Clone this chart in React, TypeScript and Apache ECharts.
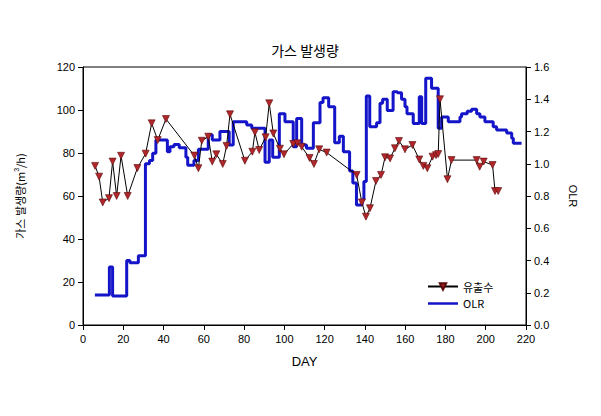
import React, { useEffect, useRef } from "react";
import * as echarts from "echarts";

// 유출수 (left axis, gas production m3/h)
const effDays = [6, 8, 9.8, 12.9, 14.7, 16.7, 18.9, 22.2, 27, 31.1, 34.1, 37.1, 41.2, 55.3, 57.3, 59, 62.2, 64.2, 66.2, 69.4, 71.3, 73, 80.4, 84.1, 85.4, 87.5, 90.7, 92.5, 94.5, 97.8, 99.8, 104.4, 106.5, 108.6, 112.5, 114.7, 117.3, 121, 135.9, 138.5, 140.5, 142.5, 145.5, 148, 150, 152.5, 154.9, 156.9, 159.9, 163.6, 167, 169, 171, 173.6, 175.3, 176.4, 177.3, 181, 183, 195.5, 197, 199, 203.4, 204.6, 206.2];
const effValues = [74, 69, 57, 59, 76, 60, 78.7, 60, 73, 79.7, 93.8, 86, 95.8, 78.8, 72.9, 85.7, 87.6, 76, 79.4, 74.9, 83.3, 98, 76.4, 80.6, 89.6, 81.4, 87.3, 103.1, 89.1, 82, 79.4, 84.2, 84.5, 82.9, 77.7, 74.9, 81.7, 80.2, 69.8, 57, 50.4, 54.3, 67, 69.8, 78, 77.5, 82.2, 85.6, 81.7, 83.7, 77, 74, 72.9, 78.3, 79, 79.5, 105, 67.8, 76.7, 76.7, 73.6, 76, 74.4, 62.3, 62.3];

// OLR (right axis), step values held from each day until the next
const olrDays = [5.9, 13.1, 14.7, 21.7, 23.3, 27.5, 31.0, 33.0, 34.6, 36.2, 41.9, 43.2, 45.2, 47.8, 51.1, 52.0, 55.1, 57.3, 62.2, 64.2, 68.0, 72.6, 74.6, 81.3, 83.8, 90.4, 92.5, 94.2, 97.5, 100.3, 104.4, 106.1, 108.6, 111.0, 114.4, 117.7, 119.2, 122.0, 125.0, 127.3, 129.3, 132.4, 134.0, 135.8, 138.6, 139.5, 140.7, 142.4, 145.8, 147.5, 148.8, 151.1, 154.0, 156.1, 158.2, 159.9, 160.9, 164.0, 167.0, 168.2, 170.2, 173.1, 176.4, 178.1, 181.4, 187.2, 188.0, 190.8, 193.0, 195.5, 197.1, 199.6, 203.7, 205.4, 210.4, 212.9, 213.7, 217.8];
const olrValues = [0.186, 0.36, 0.18, 0.40, 0.386, 0.43, 1.0, 1.02, 1.065, 1.147, 1.075, 1.105, 1.12, 1.10, 1.04, 0.99, 1.02, 1.09, 1.18, 1.147, 1.2, 1.116, 1.26, 1.24, 1.22, 1.01, 1.147, 1.04, 1.31, 1.26, 1.106, 1.28, 1.116, 1.096, 1.255, 1.38, 1.41, 1.354, 1.13, 1.17, 1.075, 0.955, 0.88, 0.744, 0.775, 0.89, 1.42, 1.23, 1.255, 1.375, 1.40, 1.33, 1.447, 1.44, 1.40, 1.354, 1.31, 1.25, 1.416, 1.25, 1.53, 1.468, 1.22, 1.29, 1.26, 1.29, 1.31, 1.325, 1.338, 1.31, 1.29, 1.26, 1.23, 1.21, 1.19, 1.158, 1.127, 1.127];

const leftTicks = { min: 0, max: 120, interval: 20 };
const rightTicks = { min: 0, max: 1.6, interval: 0.2 };
const xTicks = { min: 0, max: 220, interval: 20 };

const FONT = "'Liberation Sans', Arial, 'Noto Sans CJK KR', sans-serif";
const KFONT = "'Noto Sans CJK KR', 'Liberation Sans', sans-serif";

export default function App() {
  const ref = useRef<HTMLDivElement>(null);
  useEffect(() => {
    if (!ref.current) return;
    const chart = echarts.init(ref.current, null, { renderer: "svg" });
    const axisCommon = {
      axisLine: { show: true, lineStyle: { color: "#000", width: 1 } },
      axisTick: { show: true, inside: false, length: 5, lineStyle: { color: "#000" } },
      splitLine: { show: false },
      axisLabel: { color: "#000", fontFamily: FONT, fontSize: 11, margin: 8 },
    };
    chart.setOption({
      animation: false,
      backgroundColor: "#fff",
      title: {
        text: "가스 발생량",
        left: 300,
        top: 38,
        textAlign: "center",
        textStyle: { fontFamily: KFONT, fontSize: 14, fontWeight: "normal", color: "#000" },
      },
      grid: { left: 83, right: 75, top: 67, bottom: 91, show: true, borderColor: "#000", borderWidth: 1 },
      legend: {
        orient: "vertical",
        left: 422,
        top: 276,
        itemWidth: 30,
        itemHeight: 8,
        itemGap: 6,
        data: [
          { name: "유출수" },
          { name: "OLR", icon: "path://M0,3 L30,3 L30,5.5 L0,5.5 Z" },
        ],
        textStyle: { fontFamily: KFONT, fontSize: 11, color: "#000" },
      },
      xAxis: {
        type: "value",
        ...xTicks,
        ...axisCommon,
        name: "DAY",
        nameLocation: "middle",
        nameGap: 30,
        nameTextStyle: { fontFamily: FONT, fontSize: 13, color: "#000" },
      },
      yAxis: [
        {
          type: "value",
          ...leftTicks,
          ...axisCommon,
          name: "가스 발생량(m{sup|3}/h)",
          nameLocation: "middle",
          nameGap: 57,
          nameTextStyle: {
            fontFamily: KFONT,
            fontSize: 11,
            color: "#000",
            rich: { sup: { fontSize: 7, verticalAlign: "bottom", padding: [0, 0, 6, 0], fontFamily: FONT } },
          },
        },
        {
          type: "value",
          position: "right",
          ...rightTicks,
          ...axisCommon,
          axisLabel: { ...axisCommon.axisLabel, formatter: (v: number) => v.toFixed(1) },
          name: "OLR",
          nameLocation: "middle",
          nameGap: 42,
          nameRotate: -90,
          nameTextStyle: { fontFamily: FONT, fontSize: 11, color: "#000" },
        },
      ],
      series: [
        {
          name: "OLR",
          type: "line",
          yAxisIndex: 1,
          step: "end",
          showSymbol: false,
          symbol: "none",
          data: olrDays.map((d, i) => [d, olrValues[i]]),
          lineStyle: { color: "#1414c8", width: 3 },
          itemStyle: { color: "#1414c8" },
          z: 2,
        },
        {
          name: "유출수",
          type: "line",
          yAxisIndex: 0,
          data: effDays.map((d, i) => [d, effValues[i]]),
          symbol: "triangle",
          symbolRotate: 180,
          symbolSize: 7,
          lineStyle: { color: "#000", width: 1 },
          itemStyle: { color: "#b0262a", borderColor: "#5a0a0a", borderWidth: 0.6 },
          z: 3,
        },
      ],
    });
    return () => chart.dispose();
  }, []);
  return (
    <div
      ref={ref}
      style={{ position: "fixed", left: 0, top: 0, width: 601, height: 416, background: "#fff" }}
    />
  );
}
